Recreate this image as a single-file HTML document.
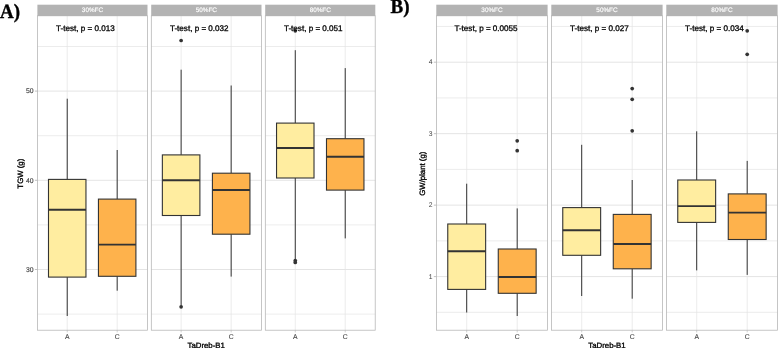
<!DOCTYPE html>
<html><head><meta charset="utf-8"><title>Figure</title>
<style>
html,body{margin:0;padding:0;background:#fff;}
body{width:778px;height:348px;overflow:hidden;font-family:"Liberation Sans",sans-serif;}
svg{display:block;will-change:transform;filter:blur(0.3px);text-rendering:geometricPrecision;font-family:"Liberation Sans",sans-serif;}
</style></head><body>
<svg width="778" height="348" viewBox="0 0 778 348">
<rect width="778" height="348" fill="#fff"/>
<rect x="37.50" y="15.8" width="109.90" height="314.40" fill="#fff"/>
<line x1="37.50" x2="147.40" y1="314.10" y2="314.10" stroke="#DFDFDF" stroke-width="0.6"/>
<line x1="37.50" x2="147.40" y1="224.90" y2="224.90" stroke="#DFDFDF" stroke-width="0.6"/>
<line x1="37.50" x2="147.40" y1="135.70" y2="135.70" stroke="#DFDFDF" stroke-width="0.6"/>
<line x1="37.50" x2="147.40" y1="46.50" y2="46.50" stroke="#DFDFDF" stroke-width="0.6"/>
<line x1="37.50" x2="147.40" y1="269.50" y2="269.50" stroke="#DBDBDB" stroke-width="0.75"/>
<line x1="37.50" x2="147.40" y1="180.30" y2="180.30" stroke="#DBDBDB" stroke-width="0.75"/>
<line x1="37.50" x2="147.40" y1="91.10" y2="91.10" stroke="#DBDBDB" stroke-width="0.75"/>
<line x1="67.22" x2="67.22" y1="15.8" y2="330.2" stroke="#E4E4E4" stroke-width="0.7"/>
<line x1="117.18" x2="117.18" y1="15.8" y2="330.2" stroke="#E4E4E4" stroke-width="0.7"/>
<line x1="67.22" x2="67.22" y1="98.70" y2="179.40" stroke="#333333" stroke-width="1"/>
<line x1="67.22" x2="67.22" y1="277.10" y2="316.00" stroke="#333333" stroke-width="1"/>
<rect x="48.49" y="179.40" width="37.47" height="97.70" fill="#FFEDA0" stroke="#333333" stroke-width="1.1"/>
<line x1="48.49" x2="85.96" y1="209.80" y2="209.80" stroke="#333333" stroke-width="1.9"/>
<line x1="117.18" x2="117.18" y1="150.00" y2="199.10" stroke="#333333" stroke-width="1"/>
<line x1="117.18" x2="117.18" y1="276.30" y2="290.70" stroke="#333333" stroke-width="1"/>
<rect x="98.44" y="199.10" width="37.47" height="77.20" fill="#FEB24C" stroke="#333333" stroke-width="1.1"/>
<line x1="98.44" x2="135.91" y1="244.60" y2="244.60" stroke="#333333" stroke-width="1.9"/>
<rect x="37.50" y="15.8" width="109.90" height="314.40" fill="none" stroke="#B3B3B3" stroke-width="0.75"/>
<rect x="37.40" y="4.7" width="110.10" height="11.30" fill="#B3B3B3"/>
<text x="92.45" y="12.35" font-size="6.35" fill="#fff" stroke="#fff" stroke-width="0.15" text-anchor="middle">30%FC</text>
<text x="56.10" y="30.75" font-size="8.1" fill="#000" stroke="#000" stroke-width="0.3">T-test, p = 0.013</text>
<line x1="67.22" x2="67.22" y1="330.2" y2="332.4" stroke="#B3B3B3" stroke-width="0.6"/>
<text x="67.22" y="338.9" font-size="6.8" fill="#444" stroke="#444" stroke-width="0.1" text-anchor="middle">A</text>
<line x1="117.18" x2="117.18" y1="330.2" y2="332.4" stroke="#B3B3B3" stroke-width="0.6"/>
<text x="117.18" y="338.9" font-size="6.8" fill="#444" stroke="#444" stroke-width="0.1" text-anchor="middle">C</text>
<rect x="151.30" y="15.8" width="110.10" height="314.40" fill="#fff"/>
<line x1="151.30" x2="261.40" y1="314.10" y2="314.10" stroke="#DFDFDF" stroke-width="0.6"/>
<line x1="151.30" x2="261.40" y1="224.90" y2="224.90" stroke="#DFDFDF" stroke-width="0.6"/>
<line x1="151.30" x2="261.40" y1="135.70" y2="135.70" stroke="#DFDFDF" stroke-width="0.6"/>
<line x1="151.30" x2="261.40" y1="46.50" y2="46.50" stroke="#DFDFDF" stroke-width="0.6"/>
<line x1="151.30" x2="261.40" y1="269.50" y2="269.50" stroke="#DBDBDB" stroke-width="0.75"/>
<line x1="151.30" x2="261.40" y1="180.30" y2="180.30" stroke="#DBDBDB" stroke-width="0.75"/>
<line x1="151.30" x2="261.40" y1="91.10" y2="91.10" stroke="#DBDBDB" stroke-width="0.75"/>
<line x1="181.13" x2="181.13" y1="15.8" y2="330.2" stroke="#E4E4E4" stroke-width="0.7"/>
<line x1="231.17" x2="231.17" y1="15.8" y2="330.2" stroke="#E4E4E4" stroke-width="0.7"/>
<line x1="181.13" x2="181.13" y1="69.70" y2="154.90" stroke="#333333" stroke-width="1"/>
<line x1="181.13" x2="181.13" y1="215.50" y2="305.50" stroke="#333333" stroke-width="1"/>
<rect x="162.36" y="154.90" width="37.53" height="60.60" fill="#FFEDA0" stroke="#333333" stroke-width="1.1"/>
<line x1="162.36" x2="199.89" y1="180.20" y2="180.20" stroke="#333333" stroke-width="1.9"/>
<line x1="231.17" x2="231.17" y1="85.50" y2="173.20" stroke="#333333" stroke-width="1"/>
<line x1="231.17" x2="231.17" y1="234.20" y2="276.60" stroke="#333333" stroke-width="1"/>
<rect x="212.41" y="173.20" width="37.53" height="61.00" fill="#FEB24C" stroke="#333333" stroke-width="1.1"/>
<line x1="212.41" x2="249.94" y1="190.00" y2="190.00" stroke="#333333" stroke-width="1.9"/>
<circle cx="181.13" cy="40.50" r="1.85" fill="#333333"/>
<circle cx="181.13" cy="306.80" r="1.85" fill="#333333"/>
<rect x="151.30" y="15.8" width="110.10" height="314.40" fill="none" stroke="#B3B3B3" stroke-width="0.75"/>
<rect x="151.20" y="4.7" width="110.30" height="11.30" fill="#B3B3B3"/>
<text x="206.35" y="12.35" font-size="6.35" fill="#fff" stroke="#fff" stroke-width="0.15" text-anchor="middle">50%FC</text>
<text x="169.90" y="30.75" font-size="8.1" fill="#000" stroke="#000" stroke-width="0.3">T-test, p = 0.032</text>
<line x1="181.13" x2="181.13" y1="330.2" y2="332.4" stroke="#B3B3B3" stroke-width="0.6"/>
<text x="181.13" y="338.9" font-size="6.8" fill="#444" stroke="#444" stroke-width="0.1" text-anchor="middle">A</text>
<line x1="231.17" x2="231.17" y1="330.2" y2="332.4" stroke="#B3B3B3" stroke-width="0.6"/>
<text x="231.17" y="338.9" font-size="6.8" fill="#444" stroke="#444" stroke-width="0.1" text-anchor="middle">C</text>
<rect x="265.30" y="15.8" width="109.90" height="314.40" fill="#fff"/>
<line x1="265.30" x2="375.20" y1="314.10" y2="314.10" stroke="#DFDFDF" stroke-width="0.6"/>
<line x1="265.30" x2="375.20" y1="224.90" y2="224.90" stroke="#DFDFDF" stroke-width="0.6"/>
<line x1="265.30" x2="375.20" y1="135.70" y2="135.70" stroke="#DFDFDF" stroke-width="0.6"/>
<line x1="265.30" x2="375.20" y1="46.50" y2="46.50" stroke="#DFDFDF" stroke-width="0.6"/>
<line x1="265.30" x2="375.20" y1="269.50" y2="269.50" stroke="#DBDBDB" stroke-width="0.75"/>
<line x1="265.30" x2="375.20" y1="180.30" y2="180.30" stroke="#DBDBDB" stroke-width="0.75"/>
<line x1="265.30" x2="375.20" y1="91.10" y2="91.10" stroke="#DBDBDB" stroke-width="0.75"/>
<line x1="295.27" x2="295.27" y1="15.8" y2="330.2" stroke="#E4E4E4" stroke-width="0.7"/>
<line x1="345.23" x2="345.23" y1="15.8" y2="330.2" stroke="#E4E4E4" stroke-width="0.7"/>
<line x1="295.27" x2="295.27" y1="50.20" y2="123.10" stroke="#333333" stroke-width="1"/>
<line x1="295.27" x2="295.27" y1="178.00" y2="260.50" stroke="#333333" stroke-width="1"/>
<rect x="276.54" y="123.10" width="37.47" height="54.90" fill="#FFEDA0" stroke="#333333" stroke-width="1.1"/>
<line x1="276.54" x2="314.01" y1="148.00" y2="148.00" stroke="#333333" stroke-width="1.9"/>
<line x1="345.23" x2="345.23" y1="68.10" y2="138.70" stroke="#333333" stroke-width="1"/>
<line x1="345.23" x2="345.23" y1="190.10" y2="238.40" stroke="#333333" stroke-width="1"/>
<rect x="326.49" y="138.70" width="37.47" height="51.40" fill="#FEB24C" stroke="#333333" stroke-width="1.1"/>
<line x1="326.49" x2="363.96" y1="156.70" y2="156.70" stroke="#333333" stroke-width="1.9"/>
<circle cx="295.27" cy="30.80" r="1.85" fill="#333333"/>
<circle cx="295.27" cy="260.60" r="1.85" fill="#333333"/>
<circle cx="295.27" cy="262.40" r="1.85" fill="#333333"/>
<rect x="265.30" y="15.8" width="109.90" height="314.40" fill="none" stroke="#B3B3B3" stroke-width="0.75"/>
<rect x="265.20" y="4.7" width="110.10" height="11.30" fill="#B3B3B3"/>
<text x="320.25" y="12.35" font-size="6.35" fill="#fff" stroke="#fff" stroke-width="0.15" text-anchor="middle">80%FC</text>
<text x="283.90" y="30.75" font-size="8.1" fill="#000" stroke="#000" stroke-width="0.3">T-test, p = 0.051</text>
<line x1="295.27" x2="295.27" y1="330.2" y2="332.4" stroke="#B3B3B3" stroke-width="0.6"/>
<text x="295.27" y="338.9" font-size="6.8" fill="#444" stroke="#444" stroke-width="0.1" text-anchor="middle">A</text>
<line x1="345.23" x2="345.23" y1="330.2" y2="332.4" stroke="#B3B3B3" stroke-width="0.6"/>
<text x="345.23" y="338.9" font-size="6.8" fill="#444" stroke="#444" stroke-width="0.1" text-anchor="middle">C</text>
<line x1="34.90" x2="37.50" y1="269.50" y2="269.50" stroke="#B3B3B3" stroke-width="0.8"/>
<text x="33.60" y="271.80" font-size="6.8" fill="#444" stroke="#444" stroke-width="0.15" text-anchor="end">30</text>
<line x1="34.90" x2="37.50" y1="180.30" y2="180.30" stroke="#B3B3B3" stroke-width="0.8"/>
<text x="33.60" y="182.60" font-size="6.8" fill="#444" stroke="#444" stroke-width="0.15" text-anchor="end">40</text>
<line x1="34.90" x2="37.50" y1="91.10" y2="91.10" stroke="#B3B3B3" stroke-width="0.8"/>
<text x="33.60" y="93.40" font-size="6.8" fill="#444" stroke="#444" stroke-width="0.15" text-anchor="end">50</text>
<text transform="translate(22.8,173.7) rotate(-90)" font-size="7.8" fill="#000" stroke="#000" stroke-width="0.32" text-anchor="middle">TGW (g)</text>
<text x="206.2" y="348.0" font-size="7.8" fill="#000" stroke="#000" stroke-width="0.32" text-anchor="middle">TaDreb-B1</text>
<rect x="436.40" y="15.8" width="111.10" height="314.40" fill="#fff"/>
<line x1="436.40" x2="547.50" y1="312.34" y2="312.34" stroke="#DFDFDF" stroke-width="0.6"/>
<line x1="436.40" x2="547.50" y1="240.87" y2="240.87" stroke="#DFDFDF" stroke-width="0.6"/>
<line x1="436.40" x2="547.50" y1="169.40" y2="169.40" stroke="#DFDFDF" stroke-width="0.6"/>
<line x1="436.40" x2="547.50" y1="97.93" y2="97.93" stroke="#DFDFDF" stroke-width="0.6"/>
<line x1="436.40" x2="547.50" y1="26.46" y2="26.46" stroke="#DFDFDF" stroke-width="0.6"/>
<line x1="436.40" x2="547.50" y1="276.60" y2="276.60" stroke="#DBDBDB" stroke-width="0.75"/>
<line x1="436.40" x2="547.50" y1="205.13" y2="205.13" stroke="#DBDBDB" stroke-width="0.75"/>
<line x1="436.40" x2="547.50" y1="133.66" y2="133.66" stroke="#DBDBDB" stroke-width="0.75"/>
<line x1="436.40" x2="547.50" y1="62.19" y2="62.19" stroke="#DBDBDB" stroke-width="0.75"/>
<line x1="466.70" x2="466.70" y1="15.8" y2="330.2" stroke="#E4E4E4" stroke-width="0.7"/>
<line x1="517.20" x2="517.20" y1="15.8" y2="330.2" stroke="#E4E4E4" stroke-width="0.7"/>
<line x1="466.70" x2="466.70" y1="183.70" y2="224.00" stroke="#333333" stroke-width="1"/>
<line x1="466.70" x2="466.70" y1="289.40" y2="312.50" stroke="#333333" stroke-width="1"/>
<rect x="447.76" y="224.00" width="37.88" height="65.40" fill="#FFEDA0" stroke="#333333" stroke-width="1.1"/>
<line x1="447.76" x2="485.64" y1="251.30" y2="251.30" stroke="#333333" stroke-width="1.9"/>
<line x1="517.20" x2="517.20" y1="208.40" y2="249.00" stroke="#333333" stroke-width="1"/>
<line x1="517.20" x2="517.20" y1="293.30" y2="316.00" stroke="#333333" stroke-width="1"/>
<rect x="498.26" y="249.00" width="37.88" height="44.30" fill="#FEB24C" stroke="#333333" stroke-width="1.1"/>
<line x1="498.26" x2="536.14" y1="277.00" y2="277.00" stroke="#333333" stroke-width="1.9"/>
<circle cx="517.20" cy="140.80" r="1.85" fill="#333333"/>
<circle cx="517.20" cy="150.70" r="1.85" fill="#333333"/>
<rect x="436.40" y="15.8" width="111.10" height="314.40" fill="none" stroke="#B3B3B3" stroke-width="0.75"/>
<rect x="436.30" y="4.7" width="111.30" height="11.30" fill="#B3B3B3"/>
<text x="491.95" y="12.35" font-size="6.35" fill="#fff" stroke="#fff" stroke-width="0.15" text-anchor="middle">30%FC</text>
<text x="454.40" y="30.75" font-size="8.1" fill="#000" stroke="#000" stroke-width="0.3">T-test, p = 0.0055</text>
<line x1="466.70" x2="466.70" y1="330.2" y2="332.4" stroke="#B3B3B3" stroke-width="0.6"/>
<text x="466.70" y="338.9" font-size="6.8" fill="#444" stroke="#444" stroke-width="0.1" text-anchor="middle">A</text>
<line x1="517.20" x2="517.20" y1="330.2" y2="332.4" stroke="#B3B3B3" stroke-width="0.6"/>
<text x="517.20" y="338.9" font-size="6.8" fill="#444" stroke="#444" stroke-width="0.1" text-anchor="middle">C</text>
<rect x="551.40" y="15.8" width="111.10" height="314.40" fill="#fff"/>
<line x1="551.40" x2="662.50" y1="312.34" y2="312.34" stroke="#DFDFDF" stroke-width="0.6"/>
<line x1="551.40" x2="662.50" y1="240.87" y2="240.87" stroke="#DFDFDF" stroke-width="0.6"/>
<line x1="551.40" x2="662.50" y1="169.40" y2="169.40" stroke="#DFDFDF" stroke-width="0.6"/>
<line x1="551.40" x2="662.50" y1="97.93" y2="97.93" stroke="#DFDFDF" stroke-width="0.6"/>
<line x1="551.40" x2="662.50" y1="26.46" y2="26.46" stroke="#DFDFDF" stroke-width="0.6"/>
<line x1="551.40" x2="662.50" y1="276.60" y2="276.60" stroke="#DBDBDB" stroke-width="0.75"/>
<line x1="551.40" x2="662.50" y1="205.13" y2="205.13" stroke="#DBDBDB" stroke-width="0.75"/>
<line x1="551.40" x2="662.50" y1="133.66" y2="133.66" stroke="#DBDBDB" stroke-width="0.75"/>
<line x1="551.40" x2="662.50" y1="62.19" y2="62.19" stroke="#DBDBDB" stroke-width="0.75"/>
<line x1="581.70" x2="581.70" y1="15.8" y2="330.2" stroke="#E4E4E4" stroke-width="0.7"/>
<line x1="632.20" x2="632.20" y1="15.8" y2="330.2" stroke="#E4E4E4" stroke-width="0.7"/>
<line x1="581.70" x2="581.70" y1="144.80" y2="207.60" stroke="#333333" stroke-width="1"/>
<line x1="581.70" x2="581.70" y1="255.30" y2="296.00" stroke="#333333" stroke-width="1"/>
<rect x="562.76" y="207.60" width="37.88" height="47.70" fill="#FFEDA0" stroke="#333333" stroke-width="1.1"/>
<line x1="562.76" x2="600.64" y1="230.20" y2="230.20" stroke="#333333" stroke-width="1.9"/>
<line x1="632.20" x2="632.20" y1="180.00" y2="214.40" stroke="#333333" stroke-width="1"/>
<line x1="632.20" x2="632.20" y1="268.80" y2="298.70" stroke="#333333" stroke-width="1"/>
<rect x="613.26" y="214.40" width="37.88" height="54.40" fill="#FEB24C" stroke="#333333" stroke-width="1.1"/>
<line x1="613.26" x2="651.14" y1="244.00" y2="244.00" stroke="#333333" stroke-width="1.9"/>
<circle cx="632.20" cy="88.60" r="1.85" fill="#333333"/>
<circle cx="632.20" cy="99.30" r="1.85" fill="#333333"/>
<circle cx="632.20" cy="130.80" r="1.85" fill="#333333"/>
<rect x="551.40" y="15.8" width="111.10" height="314.40" fill="none" stroke="#B3B3B3" stroke-width="0.75"/>
<rect x="551.30" y="4.7" width="111.30" height="11.30" fill="#B3B3B3"/>
<text x="606.95" y="12.35" font-size="6.35" fill="#fff" stroke="#fff" stroke-width="0.15" text-anchor="middle">50%FC</text>
<text x="570.00" y="30.75" font-size="8.1" fill="#000" stroke="#000" stroke-width="0.3">T-test, p = 0.027</text>
<line x1="581.70" x2="581.70" y1="330.2" y2="332.4" stroke="#B3B3B3" stroke-width="0.6"/>
<text x="581.70" y="338.9" font-size="6.8" fill="#444" stroke="#444" stroke-width="0.1" text-anchor="middle">A</text>
<line x1="632.20" x2="632.20" y1="330.2" y2="332.4" stroke="#B3B3B3" stroke-width="0.6"/>
<text x="632.20" y="338.9" font-size="6.8" fill="#444" stroke="#444" stroke-width="0.1" text-anchor="middle">C</text>
<rect x="666.40" y="15.8" width="111.10" height="314.40" fill="#fff"/>
<line x1="666.40" x2="777.50" y1="312.34" y2="312.34" stroke="#DFDFDF" stroke-width="0.6"/>
<line x1="666.40" x2="777.50" y1="240.87" y2="240.87" stroke="#DFDFDF" stroke-width="0.6"/>
<line x1="666.40" x2="777.50" y1="169.40" y2="169.40" stroke="#DFDFDF" stroke-width="0.6"/>
<line x1="666.40" x2="777.50" y1="97.93" y2="97.93" stroke="#DFDFDF" stroke-width="0.6"/>
<line x1="666.40" x2="777.50" y1="26.46" y2="26.46" stroke="#DFDFDF" stroke-width="0.6"/>
<line x1="666.40" x2="777.50" y1="276.60" y2="276.60" stroke="#DBDBDB" stroke-width="0.75"/>
<line x1="666.40" x2="777.50" y1="205.13" y2="205.13" stroke="#DBDBDB" stroke-width="0.75"/>
<line x1="666.40" x2="777.50" y1="133.66" y2="133.66" stroke="#DBDBDB" stroke-width="0.75"/>
<line x1="666.40" x2="777.50" y1="62.19" y2="62.19" stroke="#DBDBDB" stroke-width="0.75"/>
<line x1="696.70" x2="696.70" y1="15.8" y2="330.2" stroke="#E4E4E4" stroke-width="0.7"/>
<line x1="747.20" x2="747.20" y1="15.8" y2="330.2" stroke="#E4E4E4" stroke-width="0.7"/>
<line x1="696.70" x2="696.70" y1="131.30" y2="180.00" stroke="#333333" stroke-width="1"/>
<line x1="696.70" x2="696.70" y1="222.40" y2="270.40" stroke="#333333" stroke-width="1"/>
<rect x="677.76" y="180.00" width="37.88" height="42.40" fill="#FFEDA0" stroke="#333333" stroke-width="1.1"/>
<line x1="677.76" x2="715.64" y1="206.10" y2="206.10" stroke="#333333" stroke-width="1.9"/>
<line x1="747.20" x2="747.20" y1="160.90" y2="193.90" stroke="#333333" stroke-width="1"/>
<line x1="747.20" x2="747.20" y1="239.50" y2="274.90" stroke="#333333" stroke-width="1"/>
<rect x="728.26" y="193.90" width="37.88" height="45.60" fill="#FEB24C" stroke="#333333" stroke-width="1.1"/>
<line x1="728.26" x2="766.14" y1="212.60" y2="212.60" stroke="#333333" stroke-width="1.9"/>
<circle cx="747.20" cy="30.80" r="1.85" fill="#333333"/>
<circle cx="747.20" cy="54.30" r="1.85" fill="#333333"/>
<rect x="666.40" y="15.8" width="111.10" height="314.40" fill="none" stroke="#B3B3B3" stroke-width="0.75"/>
<rect x="666.30" y="4.7" width="111.30" height="11.30" fill="#B3B3B3"/>
<text x="721.95" y="12.35" font-size="6.35" fill="#fff" stroke="#fff" stroke-width="0.15" text-anchor="middle">80%FC</text>
<text x="685.00" y="30.75" font-size="8.1" fill="#000" stroke="#000" stroke-width="0.3">T-test, p = 0.034</text>
<line x1="696.70" x2="696.70" y1="330.2" y2="332.4" stroke="#B3B3B3" stroke-width="0.6"/>
<text x="696.70" y="338.9" font-size="6.8" fill="#444" stroke="#444" stroke-width="0.1" text-anchor="middle">A</text>
<line x1="747.20" x2="747.20" y1="330.2" y2="332.4" stroke="#B3B3B3" stroke-width="0.6"/>
<text x="747.20" y="338.9" font-size="6.8" fill="#444" stroke="#444" stroke-width="0.1" text-anchor="middle">C</text>
<line x1="433.80" x2="436.40" y1="276.60" y2="276.60" stroke="#B3B3B3" stroke-width="0.8"/>
<text x="432.50" y="278.90" font-size="6.8" fill="#444" stroke="#444" stroke-width="0.0" text-anchor="end">1</text>
<line x1="433.80" x2="436.40" y1="205.13" y2="205.13" stroke="#B3B3B3" stroke-width="0.8"/>
<text x="432.50" y="207.43" font-size="6.8" fill="#444" stroke="#444" stroke-width="0.0" text-anchor="end">2</text>
<line x1="433.80" x2="436.40" y1="133.66" y2="133.66" stroke="#B3B3B3" stroke-width="0.8"/>
<text x="432.50" y="135.96" font-size="6.8" fill="#444" stroke="#444" stroke-width="0.0" text-anchor="end">3</text>
<line x1="433.80" x2="436.40" y1="62.19" y2="62.19" stroke="#B3B3B3" stroke-width="0.8"/>
<text x="432.50" y="64.49" font-size="6.8" fill="#444" stroke="#444" stroke-width="0.0" text-anchor="end">4</text>
<text transform="translate(424.9,173.7) rotate(-90)" font-size="7.8" fill="#000" stroke="#000" stroke-width="0.32" text-anchor="middle">GW/plant (g)</text>
<text x="607" y="348.0" font-size="7.8" fill="#000" stroke="#000" stroke-width="0.32" text-anchor="middle">TaDreb-B1</text>
<text transform="translate(0.0,18.45) scale(1,1.06)" font-family="Liberation Serif, serif" font-size="19" font-weight="bold" fill="#000" stroke="#000" stroke-width="0.35">A)</text>
<text transform="translate(390.6,12.85) scale(1,1.06)" font-family="Liberation Serif, serif" font-size="19" font-weight="bold" fill="#000" stroke="#000" stroke-width="0.35">B)</text>
</svg>
</body></html>
